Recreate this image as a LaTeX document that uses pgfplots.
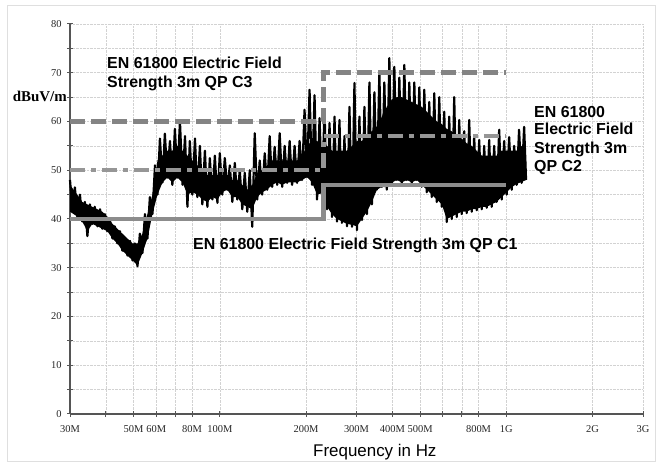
\documentclass[border=0pt]{standalone}
\usepackage{pgfplots}
\pgfplotsset{compat=1.18}
\usepackage{fontspec}
\setmainfont{Liberation Serif}
\newfontfamily\arial{Liberation Sans}
\definecolor{limC3}{RGB}{132,132,132}
\definecolor{limC2}{RGB}{150,150,150}
\definecolor{limC1}{RGB}{140,140,140}
\definecolor{axgray}{RGB}{85,85,85}
\begin{document}
\begin{tikzpicture}
\begin{axis}[
  scale only axis, width=573bp, height=390bp,
  xmode=log, xmin=30, xmax=3000, ymin=0, ymax=80,
  axis x line=bottom, axis y line=left,
  axis line style={axgray, line width=1.2bp, -},
  clip=false,
  xtick={30,40,50,60,70,80,100,200,300,400,500,600,700,800,1000,2000,3000},
  xticklabels={30M,,50M,60M,,80M,100M,200M,300M,400M,500M,,,800M,1G,2G,3G},
  ytick={0,10,...,80}, minor ytick={5,15,...,75},
  tick align=center, major tick length=6bp, minor tick length=6bp,
  tick style={axgray, line width=1bp},
  grid=both,
  major grid style={gray!35, densely dotted, line width=0.6bp},
  minor grid style={gray!35, densely dotted, line width=0.6bp},
  /pgf/number format/assume math mode=true,
  ticklabel style={font=\fontsize{10.5}{12}\selectfont, text=black!85},
  xticklabel style={yshift=-5bp},
  yticklabel style={xshift=-2bp},
  log ticks with fixed point,
]
% measured field strength: dense core of the trace
\addplot[fill=black, draw=none, mark=none] coordinates {
(30,41.5) (31.8,40.5) (33.1,39.5) (34.5,37.5) (35.9,39) (37.4,38.5) (38.9,38) (40.5,37.5) (42.2,36) (43.9,35) (45.7,33.5) (47.6,32.5) (49.6,31.5) (51.6,30.5) (53.7,33) (55.9,36) (58.2,41) (60.6,45) (63.1,47.5) (65.6,48.5) (68.3,47.5) (71.1,48.5) (74.1,47.5) (77.1,45) (80.2,45.5) (83.5,45) (86.9,44) (90.5,43.5) (94.2,44.5) (98.1,44) (102,45.5) (106.2,46) (110.6,44.5) (115.1,44.5) (119.8,43) (124.7,42.5) (129.8,42) (135.1,44.5) (140.6,45.5) (146.4,46) (152.3,47) (158.6,47.5) (165.1,47) (171.8,47.5) (178.8,47.5) (186.1,47.5) (193.7,48) (201.6,48.6) (209.9,47.5) (218.5,45) (227.4,45.3) (236.7,42.5) (246.4,41) (256.5,40) (266.9,39.5) (277.8,39) (289.2,38.8) (301,38.5) (313.4,40) (326.2,41.5) (339.5,43.5) (353.4,46) (367.8,46.6) (382.9,46.5) (398.6,47.5) (414.9,48) (431.8,47.5) (449.5,48) (467.9,47.5) (487.1,48) (507,47) (527.7,46) (549.4,45) (571.8,44) (595.3,43) (619.6,40) (644.9,40.5) (671.3,41) (698.9,41.5) (727.5,41.5) (757.3,42) (788.2,42) (820.5,42.5) (854.1,42.5) (889,43) (925.5,43.5) (963.4,44.5) (1002.7,45.5) (1044,46.5) (1087,47.2) (1131,47.6) (1172,48)
(1172,52) (1131,55) (1087,54) (1044,54) (1002.7,54) (963.4,54) (925.5,53) (889,53) (854.1,53) (820.5,53) (788.2,54) (757.3,55) (727.5,55.5) (698.9,56.5) (671.3,57) (644.9,58) (619.6,58.5) (595.3,59.5) (571.8,60) (549.4,61) (527.7,62) (507,63) (487.1,63.5) (467.9,64) (449.5,64.5) (431.8,65) (414.9,65) (398.6,64.5) (382.9,63) (367.8,61) (353.4,59) (339.5,58) (326.2,57) (313.4,56) (301,56) (289.2,55) (277.8,54) (266.9,54) (256.5,54) (246.4,54) (236.7,55) (227.4,55) (218.5,56) (209.9,56) (201.6,55) (193.7,53) (186.1,52) (178.8,52) (171.8,52) (165.1,52) (158.6,52) (152.3,52) (146.4,51) (140.6,50) (135.1,49.5) (129.8,47) (124.7,46) (119.8,47) (115.1,48) (110.6,48) (106.2,49) (102,49) (98.1,49) (94.2,49) (90.5,49) (86.9,50) (83.5,51) (80.2,52) (77.1,53) (74.1,54) (71.1,55) (68.3,54) (65.6,54) (63.1,53) (60.6,52) (58.2,45) (55.9,41) (53.7,37) (51.6,35) (49.6,35) (47.6,36) (45.7,37) (43.9,38) (42.2,39) (40.5,40.5) (38.9,41.5) (37.4,42) (35.9,42.5) (34.5,43) (33.1,43.5) (31.8,45) (30,47)
} -- cycle;
% measured field strength: peaks and dips
\addplot[black, line width=2.2bp, line join=round, mark=none] coordinates {
(30.0,48) (30.6,41.5) (31.2,46.5) (31.8,40.5) (32.5,45) (33.1,39.5) (33.8,43.5) (34.5,36.5) (35.2,43) (35.9,39) (36.6,42.5) (37.4,38.5) (38.2,42) (38.9,38) (39.7,41) (40.5,37.5) (41.3,40) (42.2,36) (43.0,38.5) (43.9,35) (44.8,37.5) (45.7,33.5) (46.7,36) (47.6,32.5) (48.6,35.5) (49.6,31.5) (50.5,35) (51.6,30.3) (52.6,37) (53.7,33) (54.8,41) (55.9,36) (57.0,44.5) (58.2,41) (59.4,51) (60.6,45) (61.8,56.5) (63.1,47.5) (64.3,57.5) (65.6,48.5) (67.0,56) (68.3,47) (69.7,58.5) (71.1,48.5) (72.6,60) (74.1,47) (75.6,57) (77.1,42.5) (78.6,56) (80.2,45) (81.9,56.5) (83.5,44.5) (85.2,55) (86.9,43) (88.7,54) (90.5,42.5) (92.3,52.5) (94.2,44) (96.1,53) (98.1,43.3) (100.0,53.5) (102.0,45) (104.1,52.5) (106.2,46) (108.4,51) (110.6,43.5) (112.8,51.5) (115.1,44) (117.4,50) (119.8,42) (122.2,49.5) (124.7,41.5) (127.2,50) (129.8,38.4) (132.4,57.6) (135.1,44) (137.8,52) (140.6,45) (143.5,53.5) (146.4,46) (149.3,57) (152.3,46.6) (155.4,54.8) (158.6,47) (161.8,57.6) (165.1,46.6) (168.4,55) (171.8,47.4) (175.3,56) (178.8,47) (182.4,55) (186.1,47.4) (189.9,56) (193.7,48) (197.6,62.4) (201.6,48.6) (205.7,66.5) (209.9,47) (214.1,65.4) (218.5,44) (222.9,60.7) (227.4,45.3) (232.0,62.4) (236.7,42) (241.5,59.7) (246.4,40.4) (251.4,61) (256.5,39.5) (261.6,60.3) (266.9,39.2) (272.3,57) (277.8,38.5) (283.5,63) (289.2,38.4) (295.1,67.9) (301.0,37.7) (307.1,61) (313.4,39.8) (319.7,63) (326.2,41) (332.8,68) (339.5,43) (346.4,66) (353.4,46) (360.5,70) (367.8,46.6) (375.3,68) (382.9,46) (390.6,73) (398.6,47) (406.6,71.2) (414.9,48) (423.3,69) (431.8,47) (440.6,71.6) (449.5,48) (458.6,68) (467.9,47) (477.4,68) (487.1,48) (496.9,67) (507.0,46.6) (517.3,66.5) (527.7,45.5) (538.4,64) (549.4,44.5) (560.5,65.8) (571.8,43.5) (583.4,65) (595.3,42.5) (607.3,62) (619.6,39.4) (632.1,61) (644.9,40) (658.0,65) (671.3,40.4) (685.0,60.3) (698.9,41) (713.0,58) (727.5,41.2) (742.2,60.3) (757.3,41.5) (772.5,57) (788.2,41.8) (804.2,56.2) (820.5,42) (837.1,55) (854.1,42.3) (871.4,56.2) (889.0,42.5) (907.0,55) (925.5,43.5) (944.3,58.3) (963.4,44) (982.8,56) (1002.7,45) (1023,56.8) (1044,46) (1065,55) (1087,47) (1108,58.3) (1131,47.4) (1154,58.9) (1172,48)
};
% limits
\addplot[limC3, line width=4.5bp, dash pattern=on 15bp off 6bp, mark=none] coordinates {(30,60) (230,60) (230,70) (1000,70)};
\addplot[limC2, line width=4.5bp, dash pattern=on 15bp off 6bp on 5bp off 6bp, mark=none] coordinates {(30,50) (230,50) (230,57) (1000,57)};
\addplot[limC1, line width=4.5bp, mark=none] coordinates {(30,40) (230,40) (230,47) (1000,47)};
% texts
\node[anchor=base west, inner sep=0pt, font=\arial\bfseries\fontsize{16}{18}\selectfont] at (rel axis cs:0.0646,0.886) {EN 61800 Electric Field};
\node[anchor=base west, inner sep=0pt, font=\arial\bfseries\fontsize{16}{18}\selectfont] at (rel axis cs:0.0646,0.837) {Strength 3m QP C3};
\node[anchor=base west, inner sep=0pt, font=\arial\bfseries\fontsize{16}{18}\selectfont] at (rel axis cs:0.8098,0.7615) {EN 61800};
\node[anchor=base west, inner sep=0pt, font=\arial\bfseries\fontsize{16}{18}\selectfont] at (rel axis cs:0.8098,0.7154) {Electric Field};
\node[anchor=base west, inner sep=0pt, font=\arial\bfseries\fontsize{16}{18}\selectfont] at (rel axis cs:0.8098,0.6667) {Strength 3m};
\node[anchor=base west, inner sep=0pt, font=\arial\bfseries\fontsize{16}{18}\selectfont] at (rel axis cs:0.8098,0.6205) {QP C2};
\node[anchor=base west, inner sep=0pt, font=\arial\bfseries\fontsize{16}{18}\selectfont] at (rel axis cs:0.2147,0.4205) {EN 61800 Electric Field Strength 3m QP C1};
\node[anchor=east, inner sep=0pt, font=\bfseries\fontsize{15}{17}\selectfont] at ([xshift=-3bp]rel axis cs:0,0.815) {dBuV/m};
\node[anchor=center, inner sep=0pt, font=\arial\fontsize{17}{19}\selectfont] at ([yshift=-38bp]rel axis cs:0.532,0) {Frequency in Hz};
% outer frame and canvas
\draw[gray!25, line width=0.8bp] ([xshift=-63bp,yshift=-47bp]rel axis cs:0,0) rectangle ([xshift=12bp,yshift=19bp]rel axis cs:1,1);
\path ([xshift=-70bp,yshift=-49bp]rel axis cs:0,0) rectangle ([xshift=19bp,yshift=24bp]rel axis cs:1,1);
\end{axis}
\end{tikzpicture}
\end{document}
